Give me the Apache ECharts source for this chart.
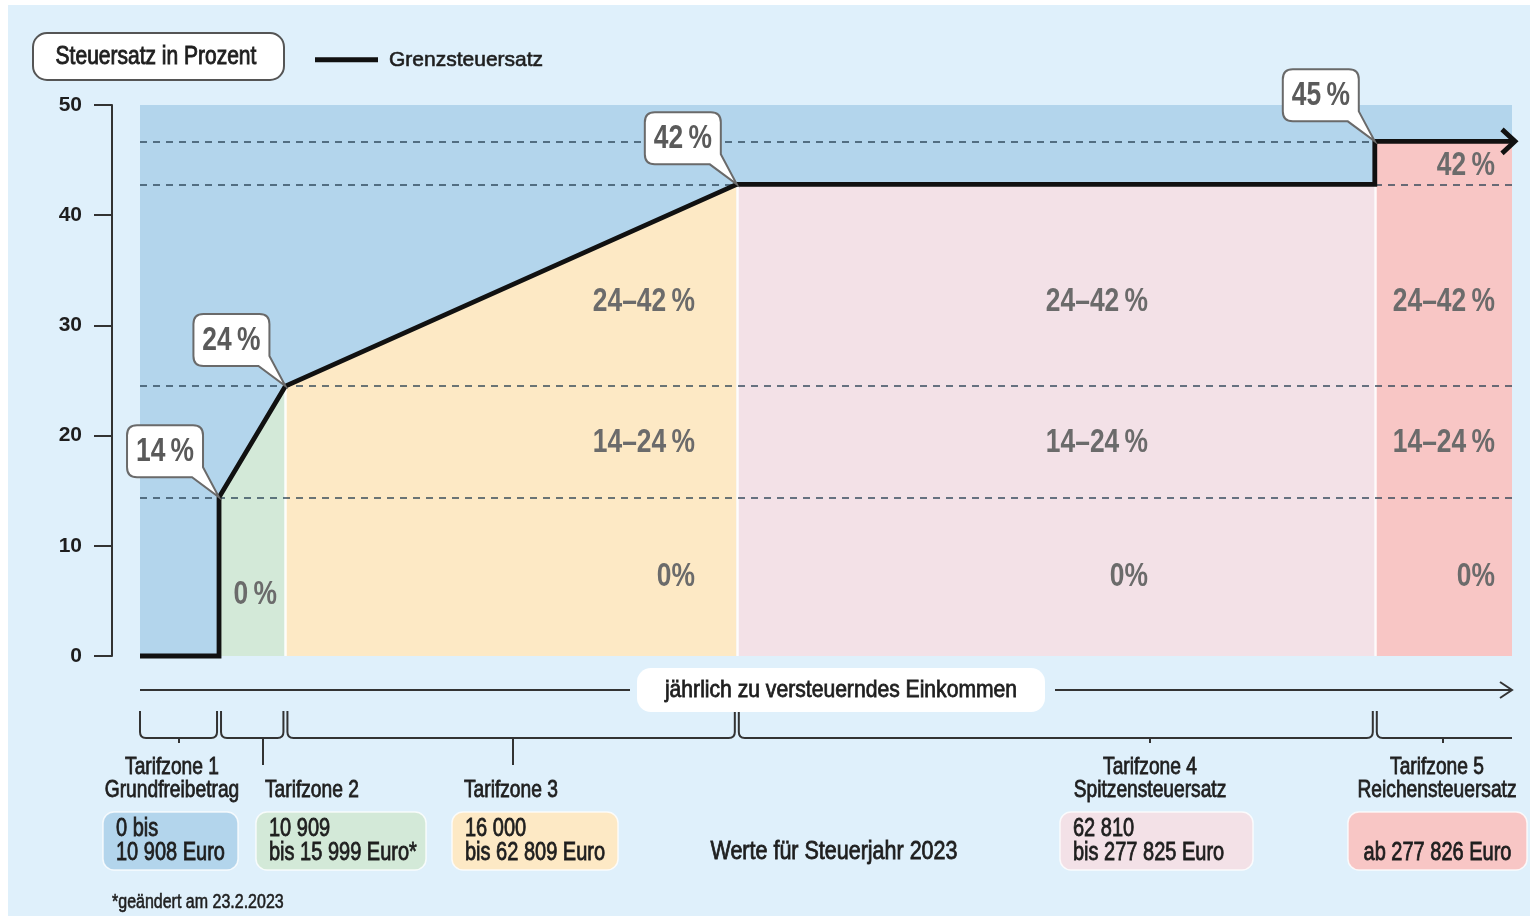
<!DOCTYPE html>
<html><head><meta charset="utf-8">
<script src="https://cdn.jsdelivr.net/npm/echarts@6/dist/echarts.min.js"></script>
<style>html,body{margin:0;padding:0;background:#fff;overflow:hidden}#c{width:1530px;height:916px}</style>
</head><body><div id="c"></div>
<script>
// ---- data ----
// schematic positions of the tariff zone boundaries along the income axis (0..100)
const zoneEdges = [0, 5.76, 10.6, 43.5, 90, 100];
// marginal tax rate curve as drawn (x schematic, y percent)
const curveX = [0, 5.76, 5.76, 10.6, 43.5, 90, 90, 100];
const curveY = [0, 0, 14.4, 24.5, 42.8, 42.8, 46.7, 46.7];
// callouts on the curve
const calloutIdx = [2, 3, 4, 6];
const calloutText = ['14\u2009%', '24\u2009%', '42\u2009%', '45\u2009%'];
// dashed reference levels and how far they run
const dashLevels = [14.4, 24.5, 42.8, 46.7];
const dashEnds = [100, 100, 100, 90];
const yTicks = [0, 10, 20, 30, 40, 50];
// band labels inside zones 3-5
const bandLabels = ['24–42\u2009%', '14–24\u2009%', '0%'];
const bandLevels = [32.1, 19.3, 7.2];
const bandAnchors = [40.45, 73.47, 98.76];
const zoneTitles = [['Tarifzone 1', 'Grundfreibetrag'], ['Tarifzone 2'], ['Tarifzone 3'], ['Tarifzone 4', 'Spitzensteuersatz'], ['Tarifzone 5', 'Reichensteuersatz']];
const zoneRanges = [['0 bis', '10 908 Euro'], ['10 909', 'bis 15 999 Euro*'], ['16 000', 'bis 62 809 Euro'], ['62 810', 'bis 277 825 Euro'], ['', 'ab 277 826 Euro']];

// ---- style ----
const SANS = '"Liberation Sans",Arial,sans-serif';
const C = {bg: '#dff0fb', plot: '#b3d5ec', green: '#d3e9d8', yellow: '#fde9c5', pink: '#f3e1e7', red: '#f8c6c5',
  line: '#111', text: '#1e1e1e', gray: '#6b6b6b'};
const zoneColors = [C.plot, C.green, C.yellow, C.pink, C.red];

const chart = echarts.init(document.getElementById('c'), null, {renderer: 'canvas'});
const curve = curveX.map((x, i) => [x, curveY[i]]);
const zoneSegs = [[2, 3], [3, 4], [4, 5], [6, 7]];

function txt(text, x, y, size, o) {
  o = o || {};
  const al = o.al || 'left';
  return {type: 'text', x: x, y: y, scaleX: o.sx || 0.8, z: o.z || 20, silent: true,
    style: {text: text, x: 0, y: 0, fontFamily: SANS, fontSize: size, fontWeight: o.w || 'normal',
      fill: o.fill || C.text, stroke: o.stroke || null, lineWidth: o.lw || 0,
      align: al, verticalAlign: 'middle', textAlign: al, textVerticalAlign: 'middle', lineHeight: o.lh || size}};
}
const BOLDISH = {stroke: C.text, lw: 0.8};

const series = [];
zoneSegs.forEach((seg, k) => {
  series.push({type: 'line', data: curve.slice(seg[0], seg[1] + 1), symbol: 'none', silent: true,
    lineStyle: {width: 0, opacity: 0}, areaStyle: {color: zoneColors[k + 1], opacity: 1, origin: 'start'}, z: 1});
});
// white separators between coloured zones
const sepData = [2, 3, 4].map(e => {
  const x = zoneEdges[e];
  const idx = curveX.indexOf(x);
  return [{coord: [x, 0]}, {coord: [x, curveY[idx]]}];
});
series.push({type: 'line', data: [], symbol: 'none', z: 2, silent: true,
  markLine: {silent: true, symbol: ['none', 'none'], label: {show: false}, animation: false,
    lineStyle: {color: '#ffffff', width: 2.5, type: 'solid', opacity: 0.9}, data: sepData}});
// dashed levels
series.push({type: 'line', data: [], symbol: 'none', z: 3, silent: true,
  markLine: {silent: true, symbol: ['none', 'none'], label: {show: false}, animation: false,
    lineStyle: {color: 'rgba(35,60,80,0.68)', width: 2, type: [7, 6]},
    data: dashLevels.map((v, i) => [{coord: [0, v]}, {coord: [dashEnds[i], v]}])}});
// band labels
const bandItems = [];
bandAnchors.forEach(x => bandLabels.forEach((t, j) => bandItems.push({x: x, y: bandLevels[j], t: t, al: 'right'})));
bandItems.push({x: 8.4, y: 5.5, t: '0\u2009%', al: 'center'});
bandItems.push({x: 98.76, y: 44.5, t: '42\u2009%', al: 'right'});
series.push({type: 'custom', coordinateSystem: 'cartesian2d', clip: false, z: 4, silent: true,
  data: bandItems.map(d => [d.x, d.y]),
  renderItem: (params, api) => {
    const p = api.coord([api.value(0), api.value(1)]);
    const d = bandItems[params.dataIndex];
    return txt(d.t, p[0], p[1], 33, {w: 'bold', fill: C.gray, al: d.al, sx: 0.8});
  }});
// the marginal tax rate curve
series.push({name: 'Grenzsteuersatz', type: 'line', data: curve, symbol: 'none', clip: false, z: 6,
  itemStyle: {color: C.line}, lineStyle: {color: C.line, width: 4.8, join: 'miter', cap: 'butt'}});
// arrow head at the end of the curve
series.push({type: 'custom', coordinateSystem: 'cartesian2d', clip: false, z: 7, silent: true,
  data: [curve[curve.length - 1]],
  renderItem: (params, api) => {
    const p = api.coord([api.value(0), api.value(1)]);
    const tip = p[0] + 3;
    return {type: 'polyline', shape: {points: [[tip - 13, p[1] - 12], [tip, p[1]], [tip - 13, p[1] + 12]]},
      style: {stroke: C.line, lineWidth: 4.8, fill: null, lineJoin: 'miter'}};
  }});
// callouts
series.push({type: 'custom', coordinateSystem: 'cartesian2d', clip: false, z: 12, silent: true,
  data: calloutIdx.map(i => curve[i]),
  renderItem: (params, api) => {
    const p = api.coord([api.value(0), api.value(1)]);
    const x1 = p[0] - 16, y1 = p[1] - 20, x0 = x1 - 76, y0 = y1 - 52, r = 10;
    const d = `M${x0 + r},${y0} L${x1 - r},${y0} Q${x1},${y0} ${x1},${y0 + r} L${x1},${y1 - 10} L${p[0]},${p[1]} L${x1 - 11},${y1} L${x0 + r},${y1} Q${x0},${y1} ${x0},${y1 - r} L${x0},${y0 + r} Q${x0},${y0} ${x0 + r},${y0} Z`;
    return {type: 'group', children: [
      {type: 'path', shape: {pathData: d}, style: {fill: '#fff', stroke: '#6a6a6a', lineWidth: 2}},
      txt(calloutText[params.dataIndex], (x0 + x1) / 2, (y0 + y1) / 2 + 1, 33, {w: 'bold', fill: '#5a5a5a', al: 'center', sx: 0.8})
    ]};
  }});
// braces below each zone
const tickX = [179, 263, 513, 1150, 1443];
const tickLong = [false, true, true, false, false];
series.push({type: 'custom', coordinateSystem: 'cartesian2d', clip: false, z: 10, silent: true,
  data: zoneEdges.slice(0, 5).map((e, z) => [e, 0, zoneEdges[z + 1]]),
  renderItem: (params, api) => {
    const z = params.dataIndex;
    const a = api.coord([api.value(0), 0])[0] + (z === 0 ? 0 : 2);
    const b = api.coord([api.value(2), 0])[0] - (z === 4 ? 0 : 2);
    const yt = 711, yb = 738, rr = 6;
    let d = `M${a},${yt} L${a},${yb - rr} Q${a},${yb} ${a + rr},${yb}`;
    if (z === 4) d += ` L${b},${yb}`;
    else d += ` L${b - rr},${yb} Q${b},${yb} ${b},${yb - rr} L${b},${yt}`;
    d += ` M${tickX[z]},${yb} L${tickX[z]},${tickLong[z] ? 765 : 743}`;
    return {type: 'path', shape: {pathData: d}, style: {stroke: '#333', lineWidth: 2, fill: null}};
  }});

chart.setOption({
  animation: false,
  backgroundColor: C.bg,
  grid: {left: 140, right: 18, top: 105, bottom: 260, show: true, backgroundColor: C.plot, borderWidth: 0},
  xAxis: {type: 'value', min: zoneEdges[0], max: zoneEdges[5], show: false},
  yAxis: {type: 'value', min: yTicks[0], max: yTicks[yTicks.length - 1], interval: 10, offset: 28, position: 'left',
    axisLine: {show: true, onZero: false, lineStyle: {color: '#333', width: 2}},
    axisTick: {show: true, length: 18, lineStyle: {color: '#333', width: 2}},
    axisLabel: {margin: 30, fontSize: 21, fontWeight: 'bold', color: C.text, fontFamily: SANS},
    splitLine: {show: false}},
  legend: {data: ['Grenzsteuersatz'], left: 315, top: 49, padding: 0, icon: 'rect', itemWidth: 63, itemHeight: 5, itemGap: 0,
    textStyle: {fontFamily: SANS, fontSize: 21, color: C.text, padding: [0, 0, 0, 6], textBorderColor: C.text, textBorderWidth: 0.6}},
  series: series
});

// ---- annotation graphics (layout only) ----
const g = [];
g.push({type: 'rect', shape: {x: 0, y: 0, width: 1530, height: 5}, style: {fill: '#fff'}, z: 30});
g.push({type: 'rect', shape: {x: 0, y: 0, width: 8, height: 916}, style: {fill: '#fff'}, z: 30});
// header box
g.push({type: 'rect', shape: {x: 33, y: 33, width: 251, height: 47, r: 14}, style: {fill: '#fff', stroke: '#555', lineWidth: 2}, z: 10});
g.push(txt('Steuersatz in Prozent', 156, 57, 25, {al: 'center', sx: 0.84, stroke: C.text, lw: 0.9}));
// income axis arrow
g.push({type: 'line', shape: {x1: 140, y1: 690, x2: 630, y2: 690}, style: {stroke: '#333', lineWidth: 2}, z: 10});
g.push({type: 'line', shape: {x1: 1055, y1: 690, x2: 1512, y2: 690}, style: {stroke: '#333', lineWidth: 2}, z: 10});
g.push({type: 'polyline', shape: {points: [[1500, 682], [1512, 690], [1500, 698]]}, style: {stroke: '#333', lineWidth: 2, fill: null}, z: 10});
g.push({type: 'rect', shape: {x: 637, y: 668, width: 408, height: 44, r: 14}, style: {fill: '#fff'}, z: 10});
g.push(txt('jährlich zu versteuerndes Einkommen', 841, 690, 24, Object.assign({al: 'center', sx: 0.88}, BOLDISH)));
// zone titles
const titlePos = [[172, 'center'], [265, 'left'], [464, 'left'], [1150, 'center'], [1437, 'center']];
zoneTitles.forEach((lines, z) => {
  const [x, al] = titlePos[z];
  if (lines.length === 2) {
    g.push(txt(lines[0], x, 767, 24, Object.assign({al: al}, BOLDISH)));
    g.push(txt(lines[1], x, 790, 24, Object.assign({al: al}, BOLDISH)));
  } else {
    g.push(txt(lines[0], x, 790, 24, Object.assign({al: al}, BOLDISH)));
  }
});
// range boxes
const boxes = [[103, 238], [256, 426], [452, 618], [1060, 1253], [1348, 1527]];
zoneRanges.forEach((lines, z) => {
  const [l, r] = boxes[z];
  g.push({type: 'rect', shape: {x: l, y: 812, width: r - l, height: 58, r: 11}, style: {fill: zoneColors[z], stroke: 'rgba(255,255,255,0.8)', lineWidth: 1.5}, z: 10});
  if (lines[0]) {
    g.push(txt(lines[0], l + 13, 829, 25, BOLDISH));
    g.push(txt(lines[1], l + 13, 853, 25, BOLDISH));
  } else {
    g.push(txt(lines[1], (l + r) / 2, 853, 25, Object.assign({al: 'center'}, BOLDISH)));
  }
});
g.push(txt('Werte für Steuerjahr 2023', 834, 852, 25, Object.assign({al: 'center', sx: 0.86}, BOLDISH)));
g.push(txt('*geändert am 23.2.2023', 112, 902, 20, {stroke: C.text, lw: 0.6}));
chart.setOption({graphic: {elements: g}});
</script>
</body></html>
